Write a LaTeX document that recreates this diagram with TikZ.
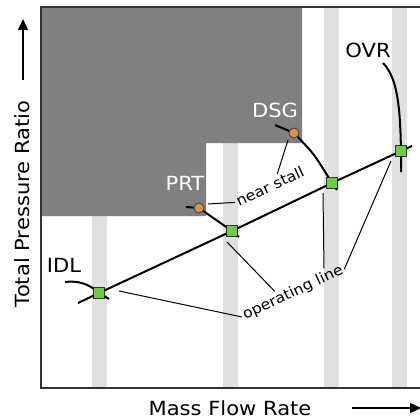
\documentclass[tikz,border=0pt]{standalone}
\usepackage{fontspec}
\setmainfont{DejaVu Sans}[FakeStretch=1.08]
\usetikzlibrary{calc,arrows.meta}
\definecolor{stallgray}{RGB}{128,128,128}
\definecolor{bandgray}{RGB}{224,224,224}
\definecolor{opgreen}{RGB}{108,204,68}
\definecolor{stallorange}{RGB}{214,146,78}

\begin{document}
\begin{tikzpicture}[x=1pt, y=-1pt,
    op/.style = {draw=black!80, fill=opgreen, minimum size=10.5pt, inner sep=0pt, line width=0.7pt},
    ns/.style = {draw=black!80, fill=stallorange, circle, minimum size=10pt, inner sep=0pt, line width=0.7pt},
    big/.style = {font=\fontsize{19.5}{22}\selectfont},
    small/.style = {font=\fontsize{14.5}{17}\selectfont, inner sep=2pt},
    speed/.style = {line width=2pt},
    lead/.style = {line width=1pt}]

    \useasboundingbox (0,0) rectangle (420,420);

    % bands and stall region
    \fill[bandgray] (92,216) rectangle (107,388);
    \fill[bandgray] (223,143) rectangle (238,388);
    \fill[bandgray] (324,7) rectangle (339,388);
    \fill[bandgray] (392,7) rectangle (407,388);
    \fill[stallgray] (41,7) -- (302,7) -- (302,143) -- (206,143) -- (206,216) -- (41,216) -- cycle;
    \draw[line width=1.4pt, black!80] (421,7) -- (41,7) -- (41,388) -- (421,388);

    % operating points
    \node[op] (idl) at (99,293) {};
    \node[op] (prt) at (232,231) {};
    \node[op] (dsg) at (332,183) {};
    \node[op] (ovr) at (401,151) {};
    \node[ns] (prtS) at (199,208) {};
    \node[ns] (dsgS) at (294,133) {};

    \node[big] (idlL) at (64,265) {IDL};
    \node[big, text=white] (prtL) at (185,183) {PRT};
    \node[big, text=white] (dsgL) at (275,110) {DSG};
    \node[big] (ovrL) at (368,50) {OVR};

    % speed lines
    \coordinate (idlA) at (65,282);
    \coordinate (idlB) at (109,299);
    \draw[speed] (idlA) .. controls (80,280) and (90,286) .. (idl) -- (idlB);
    \coordinate (prtA) at (186,207);
    \coordinate (prtB) at (239,237);
    \draw[speed] (prtA) -- (prtS) -- (prt) -- (prtB);
    \coordinate (dsgA) at (275,125);
    \coordinate (dsgB) at (337,190);
    \draw[speed] (dsgA) -- (dsgS) .. controls (314,154) .. (dsg) -- (dsgB);
    \coordinate (ovrA) at (383,63);
    \coordinate (ovrB) at (401,172);
    \draw[speed] (ovrA) .. controls (398,78) and (400,110) .. (ovr) -- (ovrB);

    % operating line
    \coordinate (opA) at (78,303);
    \coordinate (opB) at (412,146);
    \draw[speed] (opA) -- (idl) -- (prt) -- (dsg) -- (ovr) -- (opB);

    \node[small, rotate=25] (nsL) at (270,186) {near stall};
    \node[small, rotate=25] (olL) at (293,293) {operating line};

    % leaders
    \coordinate (prtSo) at (208,204);
    \coordinate (dsgSo) at (288,140);
    \draw[lead] (prtSo) -- (nsL.west);
    \draw[lead] (dsgSo) -- ($(nsL.north west)!0.65!(nsL.north east)$);
    \coordinate (idlO) at (119,291);
    \coordinate (prtO) at (227,242);
    \coordinate (dsgO) at (323,193);
    \coordinate (ovrO) at (391,161);
    \draw[lead] (idlO) -- (olL.west);
    \draw[lead] (prtO) -- ($(olL.north west)!0.36!(olL.north east)$);
    \draw[lead] (dsgO) -- ($(olL.north west)!0.84!(olL.north east)$);
    \draw[lead] (ovrO) -- (olL.east);

    % axes
    \node[big, rotate=90] (yL) at (22.5,204) {Total Pressure Ratio};
    \coordinate (yA) at (23,80);
    \coordinate (yB) at (23,19);
    \draw[-{Triangle[length=11pt,width=10pt]}, line width=1.3pt] (yA) -- (yB);
    \node[big] (xL) at (230,408.5) {Mass Flow Rate};
    \coordinate (xA) at (352,408);
    \coordinate (xB) at (421,408);
    \draw[-{Triangle[length=11pt,width=10pt]}, line width=1.3pt] (xA) -- (xB);

\end{tikzpicture}
\end{document}
